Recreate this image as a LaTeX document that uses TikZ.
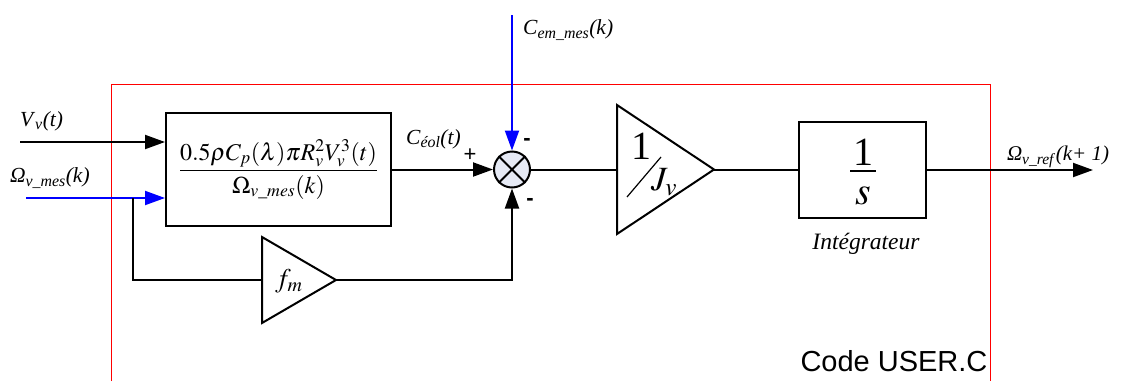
\documentclass[tikz,border=0pt]{standalone}
\usepackage{amsmath}
\usepackage{mathptmx}
\usepackage{fontspec}
\setmainfont{Liberation Serif}
\newfontfamily\sansf{Liberation Sans}
\usetikzlibrary{arrows.meta}
\definecolor{sumfill}{RGB}{230,234,245}
\definecolor{pureblue}{RGB}{0,0,255}
\newcommand\lab[3]{\textit{#1}\textsubscript{\textit{#2}}\textit{#3}}
\begin{document}
\begin{tikzpicture}[x=1pt,y=-1pt,line width=2pt,
  arr/.style={-{Triangle[length=20pt,width=14pt]}},
  blk/.style={draw,line width=2pt,inner sep=0pt},
  lbl/.style={inner sep=0pt,font=\fontsize{21.5}{24}\selectfont},
  big/.style={inner sep=0pt,font=\fontsize{40}{42}\selectfont},
  sign/.style={inner sep=0pt,font=\sansf\fontsize{22}{24}\selectfont}]
\useasboundingbox (0,0) rectangle (1125,381);
% red frame
\draw[red,line width=0.8pt] (111,381) -- (111,84) -- (990,84) -- (990,381);
% main block
\node[blk,minimum width=225pt,minimum height=113pt] (F) at (278.5,169.5)
  {\fontsize{24}{28}\selectfont$\dfrac{0.5\rho C_p(\lambda)\pi R_v^2V_v^3(t)}{\Omega_{v\_mes}(k)}$};
% inputs
\coordinate (vin) at (20,142);
\coordinate (win) at (26,198);
\draw[arr] (vin) -- (vin -| F.west);
\draw[arr,pureblue] (win) -- (win -| F.west);
\node[lbl,anchor=west] (vlab) at (19,121) {\lab{V}{v}{(t)}};
\node[lbl,anchor=west] (wlab) at (9,178) {\lab{Ω}{v\_mes}{(k)}};
% fm gain
\coordinate (fmin) at (262,280);
\coordinate (fmout) at (336,280);
\draw (262,237) -- (fmout) -- (262,323) -- cycle;
\node[inner sep=0pt,font=\fontsize{27}{29}\selectfont] (fml) at (289,281) {$f_m$};
\coordinate (br) at (133,198);
\draw (br) |- (fmin);
% summer
\node[draw,circle,fill=sumfill,minimum size=36pt,inner sep=0pt] (S) at (512,169.5) {};
\draw (S.north west) -- (S.south east) (S.north east) -- (S.south west);
\draw[arr] (F.east) -- (S.west);
\draw[arr] (fmout) -| (S.south);
\coordinate (cem) at (512,15);
\draw[arr,pureblue] (cem) -- (S.north);
\node[lbl,anchor=west] (clab) at (522,30) {\lab{C}{em\_mes}{(k)}};
\node[lbl,anchor=west] (celab) at (405,139) {\lab{C}{éol}{(t)}};
\node[sign] (p1) at (470,155) {+};
\node[sign,font=\sansf\bfseries\fontsize{22}{24}\selectfont] (m1) at (527,142) {-};
\node[sign,font=\sansf\bfseries\fontsize{22}{24}\selectfont] (m2) at (530,202) {-};
% 1/Jv gain
\coordinate (jin) at (617,169.5);
\coordinate (jout) at (714,169.5);
\draw (617,105) -- (jout) -- (617,234) -- cycle;
\draw (S.east) -- (jin);
\node[big] (one) at (641,146) {1};
\draw[line width=1.2pt] (627,197) -- (661,157);
\node[inner sep=0pt,font=\fontsize{34}{36}\selectfont] (jv) at (664,182) {$J_v$};
% integrator
\node[blk,minimum width=127pt,minimum height=96pt] (I) at (862.5,170) {};
\node[big] (ione) at (863,152) {1};
\draw[line width=1.3pt] (850,171) -- (876,171);
\node[big] (is) at (863,196) {$s$};
\draw (jout) -- (I.west |- jout);
\node[lbl,font=\fontsize{23.5}{26}\selectfont\itshape] (intl) at (866,244) {Intégrateur};
\coordinate (out) at (1093,170);
\draw[arr] (I.east) -- (out);
\node[lbl,font=\fontsize{21}{24}\selectfont,anchor=west] (olab) at (1006,157) {\lab{Ω}{v\_ref}{(k+ 1)}};
\node[inner sep=0pt,font=\sansf\fontsize{29}{32}\selectfont] (code) at (894,361) {Code USER.C};
\end{tikzpicture}
\end{document}
